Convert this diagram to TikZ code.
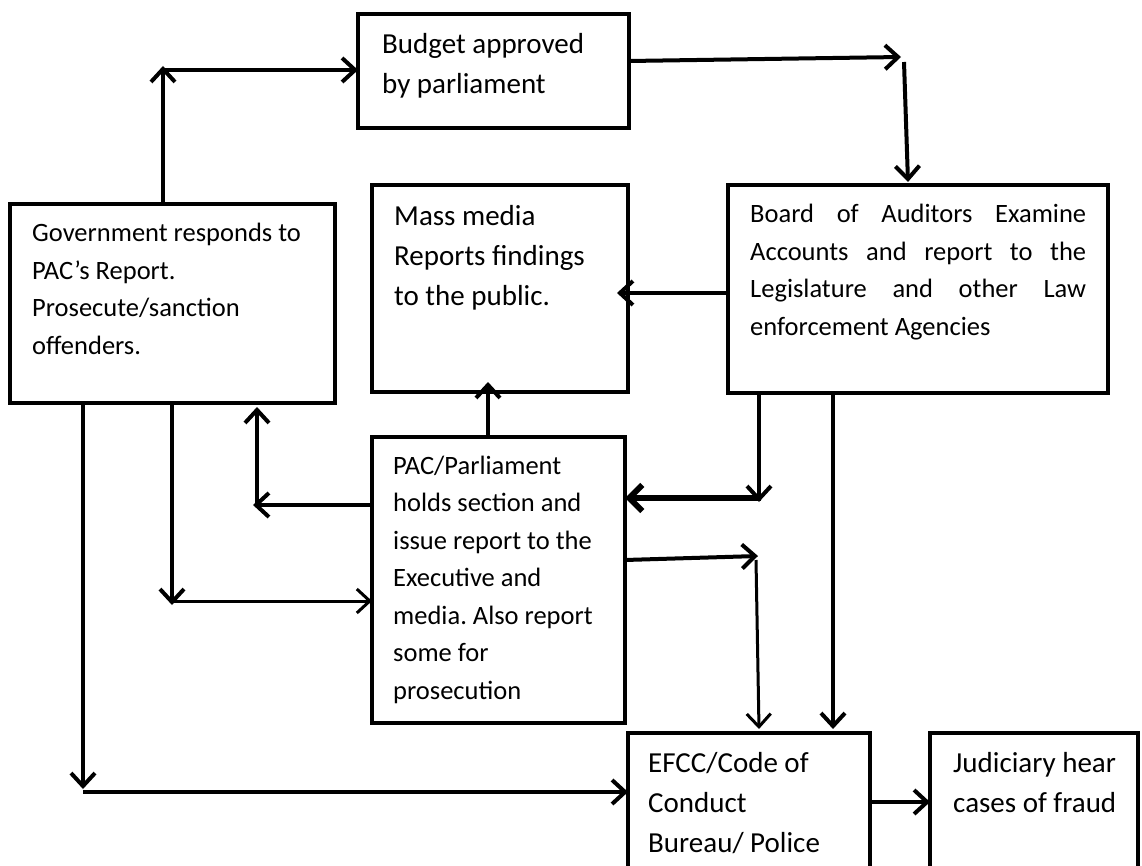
\documentclass[tikz,border=0pt]{standalone}
\usepackage{fontspec}
\setmainfont{Carlito}
\usetikzlibrary{arrows.meta}
\frenchspacing
\newcommand{\fsmall}{\fontsize{26.5}{37.5}\selectfont\frenchspacing}
\newcommand{\fbig}{\fontsize{29}{40}\selectfont\frenchspacing}
\begin{document}
\begin{tikzpicture}[x=1pt,y=-1pt,
  box/.style={draw, line width=4pt, inner sep=0pt, outer sep=0pt, anchor=north west},
  conn/.style={line width=4pt, -{Straight Barb[length=13pt,width=24pt]}},
  thinconn/.style={line width=3pt, -{Straight Barb[length=13pt,width=24pt]}},
  thickconn/.style={line width=6pt, -{Straight Barb[length=13pt,width=26pt]}},
  txt/.style={anchor=base west, align=flush left, inner sep=0pt, text width=340pt}]
\clip (0,0) rectangle (1142,866);
\fill[white] (0,0) rectangle (1142,866);

% boxes
\node[box, minimum width=271pt, minimum height=114pt] (budget) at (358,14) {};
\node[box, minimum width=256pt, minimum height=207pt] (media) at (372,185) {};
\node[box, minimum width=380pt, minimum height=208pt] (board) at (728,185) {};
\node[box, minimum width=325pt, minimum height=199pt] (gov) at (10,204) {};
\node[box, minimum width=253pt, minimum height=286pt] (pac) at (372,437) {};
\node[box, minimum width=242pt, minimum height=170pt] (efcc) at (628,733) {};
\node[box, minimum width=208pt, minimum height=170pt] (jud) at (930,733) {};

% texts
\node[txt, font=\fbig] (tbudget) at (382,54) {Budget approved\\by parliament};
\node[txt, font=\fbig] (tmedia) at (394,226) {Mass media\\Reports findings\\to the public.};
\node[txt, font=\fsmall, text width=336pt] (tboard) at (750,223)
  {\makebox[336pt][s]{Board of Auditors Examine}\\
   \makebox[336pt][s]{Accounts and report to the}\\
   \makebox[336pt][s]{Legislature and other Law}\\
   \makebox[336pt][l]{enforcement Agencies}};
\node[txt, font=\fsmall] (tgov) at (32,242) {Government responds to\\PAC’s Report.\\Prosecute/sanction\\offenders.};
\node[txt, font=\fsmall] (tpac) at (393,474) {PAC/Parliament\\holds section and\\issue report to the\\Executive and\\media. Also report\\some for\\prosecution};
\node[txt, font=\fbig] (tefcc) at (648,772) {EFCC/Code of\\Conduct\\Bureau/ Police};
\node[txt, font=\fbig, text width=180pt] (tjud) at (953,772) {Judiciary hear\\cases of fraud};

% helper coordinates
\coordinate (g1) at (163,66);
\coordinate (g2) at (163,70);
\coordinate (b0) at (629,61);
\coordinate (b1) at (901,57);
\coordinate (b2) at (904,62);
\coordinate (b3) at (908,182);
\coordinate (m1) at (617,293);
\coordinate (m2) at (488,382);
\coordinate (a1) at (759,502);
\coordinate (a2) at (761,498);
\coordinate (p0) at (628,560);
\coordinate (p1) at (758,556);
\coordinate (p2) at (756,560);
\coordinate (e1) at (759,729);
\coordinate (e2) at (833,729);
\coordinate (g3) at (83,789);
\coordinate (g4) at (83,792);
\coordinate (g5) at (172,605);
\coordinate (g6) at (172,601);
\coordinate (g7) at (253,505);
\coordinate (g8) at (257,505);
\coordinate (g9) at (257,407);
\coordinate (j1) at (870,802);

% connectors
\draw[conn] (gov.north -| g1) -- (g1);
\draw[conn] (g2) -- (budget.west |- g2);
\draw[conn] (budget.east |- b0) -- (b1);
\draw[conn] (b2) -- (b3);
\draw[conn] (board.west |- m1) -- (m1);
\draw[conn] (pac.north -| m2) -- (m2);
\draw[conn] (board.south -| a1) -- (a1);
\draw[thickconn] (a2) -- (pac.east |- a2);
\draw[conn] (pac.east |- p0) -- (p1);
\draw[thinconn] (p2) -- (e1);
\draw[conn] (board.south -| e2) -- (e2);
\draw[conn] (gov.south -| g3) -- (g3);
\draw[conn] (g4) -- (efcc.west |- g4);
\draw[conn] (gov.south -| g5) -- (g5);
\draw[thinconn] (g6) -- (pac.west |- g6);
\draw[conn] (pac.west |- g7) -- (g7);
\draw[conn] (g8) -- (g9);
\draw[conn] (efcc.east |- j1) -- (jud.west |- j1);
\end{tikzpicture}
\end{document}
